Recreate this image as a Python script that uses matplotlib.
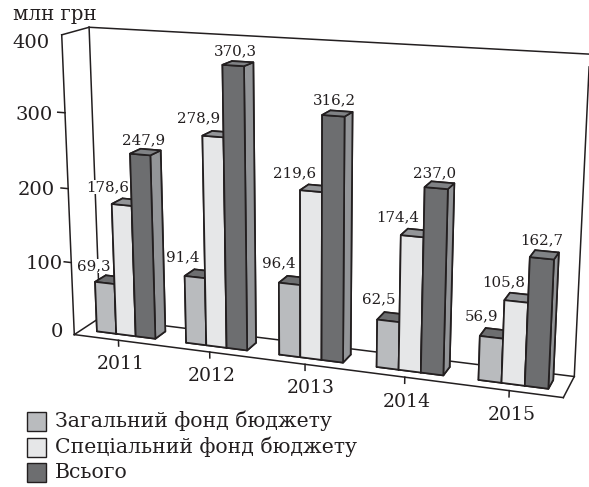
import matplotlib
matplotlib.use('Agg')
import matplotlib.pyplot as plt
from matplotlib.patches import Rectangle

W, H = 589, 487
plt.rcParams['font.family'] = 'DejaVu Serif'

years = ['2011', '2012', '2013', '2014', '2015']
general = [69.3, 91.4, 96.4, 62.5, 56.9]
special = [178.6, 278.9, 219.6, 174.4, 105.8]
total = [247.9, 370.3, 316.2, 237.0, 162.7]
legend_labels = ['Загальний фонд бюджету', 'Спеціальний фонд бюджету', 'Всього']
zticks = [0, 100, 200, 300, 400]

ink = '#231f20'
# bottom, top, front, back, left, right
faces = [
    ['#b9bbbe', '#6d6e70', '#b9bbbe', '#b9bbbe', '#b9bbbe', '#8a8c8f'],
    ['#e6e7e8', '#939598', '#e6e7e8', '#e6e7e8', '#e6e7e8', '#939598'],
    ['#6d6e70', '#808285', '#6d6e70', '#6d6e70', '#6d6e70', '#939598'],
]

fig = plt.figure(figsize=(W / 100, H / 100), dpi=100)
ax = fig.add_axes([0, 0, 1, 1], projection='3d')
ax.set_xlim(0, 5)
ax.set_ylim(0, 1)
ax.set_zlim(0, 400)
ax.view_init(14.682, -70.369, -0.064)
ax.set_proj_type('persp', focal_length=0.4625)
ax.set_box_aspect((1.6318, 0.1822, 1))

# put the 3d box where the picture has it (pixels per view unit, view origin)
s, tx, ty = 3237.39, 314.95, 203.65
xl = ax.viewLim.intervalx
yl = ax.viewLim.intervaly
L = s * (xl[1] - xl[0])
ax.set_position([(tx + s * xl[0]) / W, 1 - (ty - s * yl[0]) / H, L / W, L / H])
ax.set_axis_off()
ax.patch.set_alpha(0)
ax.computed_zorder = False


def seg(a, b):
    ax.plot([a[0], b[0]], [a[1], b[1]], [a[2], b[2]], color=ink, lw=1.1, zorder=1)


# walls and floor
seg((0, 0, 0), (0, 0, 400))
seg((0, 0, 400), (0, 1, 400))
seg((0, 1, 400), (5, 1, 400))
seg((0, 1, 0), (0, 1, 400))
seg((5, 1, 0), (5, 1, 385))
seg((0, 0, 0), (5, 0, 0))
seg((0, 0, 0), (0, 1, 0))
seg((0, 1, 0), (5, 1, 0))
seg((5, 0, 0), (5, 1, 0))
for z in zticks[1:4]:
    seg((0, 0, z), (-0.08, 0, z))
for i in range(len(years)):
    seg((i + 0.5, 0, 0), (i + 0.5, 0, -8))

zo = 2
for i in range(len(years)):
    for j, vals in enumerate((general, special, total)):
        ax.bar3d(i + 0.17 + 0.22 * j, 0.3, 0, 0.22, 0.42, vals[i], color=faces[j], shade=False,
                 edgecolor=ink, linewidth=1.25, zorder=zo)
        zo += 1


def px(x, y, txt, size, ha='center', va='center', **kw):
    fig.text(x / W, 1 - y / H, txt, fontsize=size, ha=ha, va=va, color=ink, **kw)


# value labels, placed by hand as in the picture; white box cuts the wall line behind them
label_x = [[94, 108, 144], [183, 199, 235], [279, 295, 334], [379, 398, 435], [482, 504, 542]]
label_y = [[266, 187, 140], [257, 118, 51], [263, 173, 100], [299, 217, 173], [316, 282, 240]]
for i in range(len(years)):
    for j, vals in enumerate((general, special, total)):
        px(label_x[i][j], label_y[i][j], f'{vals[i]:.1f}'.replace('.', ','), 10.8,
           bbox=dict(facecolor='white', edgecolor='none', pad=0))

ztick_y = [332, 264, 190, 115, 43]
ztick_r = [63, 63, 55, 53, 50]
for z, y, r in zip(zticks, ztick_y, ztick_r):
    px(r, y, str(z), 14, ha='right')
px(13, 14, 'млн грн', 14.2, ha='left')

year_x = [121, 212, 311, 407, 512]
year_y = [364, 376, 388, 402, 415]
for yr, x, y in zip(years, year_x, year_y):
    px(x, y, yr, 13.6)

legend_y = [421, 447, 472]
for lab, y, f in zip(legend_labels, legend_y, faces):
    fig.add_artist(Rectangle((27 / W, 1 - (y + 9.5) / H), 19 / W, 19 / H, transform=fig.transFigure,
                             facecolor=f[2], edgecolor=ink, lw=1.0))
    px(55, y, lab, 14.7, ha='left')

fig.savefig('out.png', dpi=100)
